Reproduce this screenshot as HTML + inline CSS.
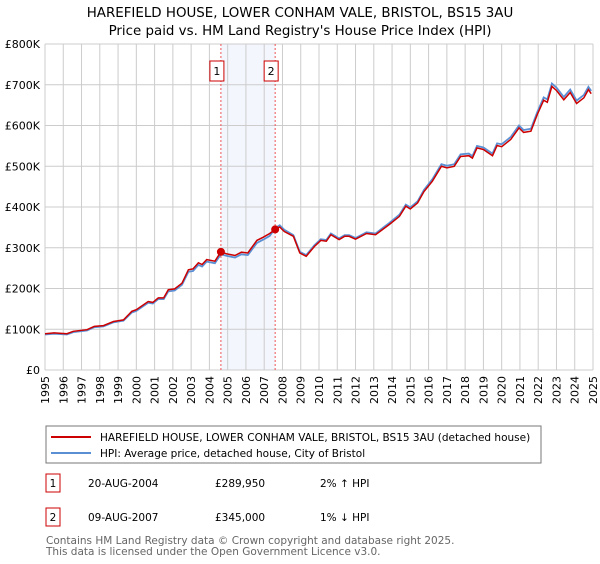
<!DOCTYPE html>
<html><head><meta charset="utf-8"><style>
body{margin:0;background:#fff;font-family:"DejaVu Sans","Liberation Sans",sans-serif;}
svg text{font-family:"DejaVu Sans","Liberation Sans",sans-serif;}
</style></head><body>
<svg id="c" width="600" height="560" viewBox="0 0 600 560" xmlns="http://www.w3.org/2000/svg">
<text x="300" y="17" text-anchor="middle" font-size="13.4" fill="#000">HAREFIELD HOUSE, LOWER CONHAM VALE, BRISTOL, BS15 3AU</text>
<text x="300" y="35" text-anchor="middle" font-size="13.4" fill="#000">Price paid vs. HM Land Registry's House Price Index (HPI)</text>
<g id="grid"></g><g id="series"></g><g id="axes"></g>
<rect x="46" y="426" width="495" height="37" fill="#fff" stroke="#777"/>
<line x1="51" y1="437" x2="91" y2="437" stroke="#cc0000" stroke-width="2"/>
<text x="100" y="441" font-size="10.5">HAREFIELD HOUSE, LOWER CONHAM VALE, BRISTOL, BS15 3AU (detached house)</text>
<line x1="51" y1="453" x2="91" y2="453" stroke="#5b8fd4" stroke-width="2"/>
<text x="100" y="457" font-size="10.5">HPI: Average price, detached house, City of Bristol</text>
<g>
<rect x="46" y="474" width="14" height="18" fill="#fff" stroke="#cc0000"/>
<text x="53" y="487" font-size="10.5" text-anchor="middle">1</text>
<text x="88" y="487" font-size="10.5">20-AUG-2004</text>
<text x="215" y="487" font-size="10.5">£289,950</text>
<text x="320" y="487" font-size="10.5">2% ↑ HPI</text></g>
<g>
<rect x="46" y="508" width="14" height="18" fill="#fff" stroke="#cc0000"/>
<text x="53" y="521" font-size="10.5" text-anchor="middle">2</text>
<text x="88" y="521" font-size="10.5">09-AUG-2007</text>
<text x="215" y="521" font-size="10.5">£345,000</text>
<text x="320" y="521" font-size="10.5">1% ↓ HPI</text></g>
<text x="46" y="544" font-size="10.5" fill="#666">Contains HM Land Registry data © Crown copyright and database right 2025.</text>
<text x="46" y="555" font-size="10.5" fill="#666">This data is licensed under the Open Government Licence v3.0.</text>
</svg>
<script>
const years=[1995,1995.5,1996.2,1996.55,1997.3,1997.7,1998.2,1998.75,1999.3,1999.75,2000,2000.65,2000.9,2001.2,2001.5,2001.75,2002.1,2002.5,2002.85,2003.1,2003.4,2003.6,2003.85,2004.3,2004.63,2004.95,2005.4,2005.75,2006.1,2006.6,2006.95,2007.3,2007.6,2007.85,2008.1,2008.6,2008.95,2009.3,2009.75,2010.1,2010.4,2010.65,2011.1,2011.4,2011.65,2012,2012.6,2013.1,2013.85,2014.4,2014.75,2015,2015.4,2015.75,2016.2,2016.7,2017,2017.4,2017.75,2018.2,2018.4,2018.65,2019,2019.5,2019.75,2020,2020.5,2020.95,2021.2,2021.6,2021.95,2022.3,2022.5,2022.75,2023,2023.4,2023.75,2024.1,2024.5,2024.75,2024.9];
const priceValues=[89,91,89,95,99,107,109,119,123,144,148,168,166,177,177,197,199,213,246,248,263,259,271,267,290,285,281,289,287,318,326,335,345,351,340,328,287,279,303,318,316,332,320,328,328,321,335,332,357,377,402,395,410,438,463,500,496,500,524,526,520,545,541,526,551,548,566,594,583,586,627,662,657,696,686,663,681,654,668,688,678];
const hpiValues=[87,89,87,93,97,105,107,117,121,141,145,165,163,174,174,193,195,209,241,243,258,254,266,262,284,280,276,284,282,312,320,329,348,355,344,331,290,282,306,321,319,335,323,331,331,324,338,335,361,381,406,399,414,442,468,505,501,505,529,531,525,550,546,531,556,554,572,600,589,592,633,669,664,703,693,670,688,661,675,695,685];
const saleYears=[2004.63,2007.6];
const saleValues=[289.95,345];
const saleLabels=['1','2'];
const yTicks=[0,100,200,300,400,500,600,700,800];
const yTickLabels=['£0','£100K','£200K','£300K','£400K','£500K','£600K','£700K','£800K'];
const xTicks=[1995,1996,1997,1998,1999,2000,2001,2002,2003,2004,2005,2006,2007,2008,2009,2010,2011,2012,2013,2014,2015,2016,2017,2018,2019,2020,2021,2022,2023,2024,2025];
const X0=45,X1=593,Y0=370,Y1=44;
const xs=y=>X0+(y-1995)/30*(X1-X0);
const ys=v=>Y0-v/800*(Y0-Y1);
const NS='http://www.w3.org/2000/svg';
function mk(p,t,a){const e=document.createElementNS(NS,t);for(const k in a)e.setAttribute(k,a[k]);p.appendChild(e);return e;}
const g=document.getElementById('grid'),s=document.getElementById('series'),ax=document.getElementById('axes');
const band=mk(g,'rect',{x:xs(saleYears[0]),y:Y1,width:xs(saleYears[1])-xs(saleYears[0]),height:Y0-Y1,fill:'#f3f6fd'});


xTicks.forEach(t=>{const l=mk(g,'line',{x1:xs(t),x2:xs(t),y1:Y1,y2:Y0,stroke:'#ccc'});


const tx=mk(ax,'text',{x:0,y:0,'font-size':11,'text-anchor':'end',transform:`translate(${xs(t)+4},376) rotate(-90)`});tx.textContent=t;

});
yTicks.forEach((t,i)=>{const l=mk(g,'line',{x1:X0,x2:X1,y1:ys(t),y2:ys(t),stroke:'#ccc'});


const tx=mk(ax,'text',{x:40,y:ys(t)+4,'font-size':11,'text-anchor':'end'});tx.textContent=yTickLabels[i];

});
saleYears.forEach((y,i)=>{const l=mk(g,'line',{x1:xs(y),x2:xs(y),y1:Y1,y2:Y0,stroke:'#e55','stroke-dasharray':'2,2'});


const r=mk(ax,'rect',{x:xs(y)-11,y:61,width:14,height:20,fill:'#fff',stroke:'#cc0000'});


const tx=mk(ax,'text',{x:xs(y)-4,y:75,'font-size':11,'text-anchor':'middle'});tx.textContent=saleLabels[i];

});
const pts=(a)=>years.map((y,i)=>xs(y).toFixed(1)+','+ys(a[i]).toFixed(1)).join(' ');
const h=mk(s,'polyline',{points:pts(hpiValues),fill:'none',stroke:'#5b8fd4','stroke-width':1.8});


const p=mk(s,'polyline',{points:pts(priceValues),fill:'none',stroke:'#cc0000','stroke-width':1.5});


saleYears.forEach((y,i)=>{const c=mk(s,'circle',{cx:xs(y),cy:ys(saleValues[i]),r:4,fill:'#cc0000'});

});
</script>
</body></html>
